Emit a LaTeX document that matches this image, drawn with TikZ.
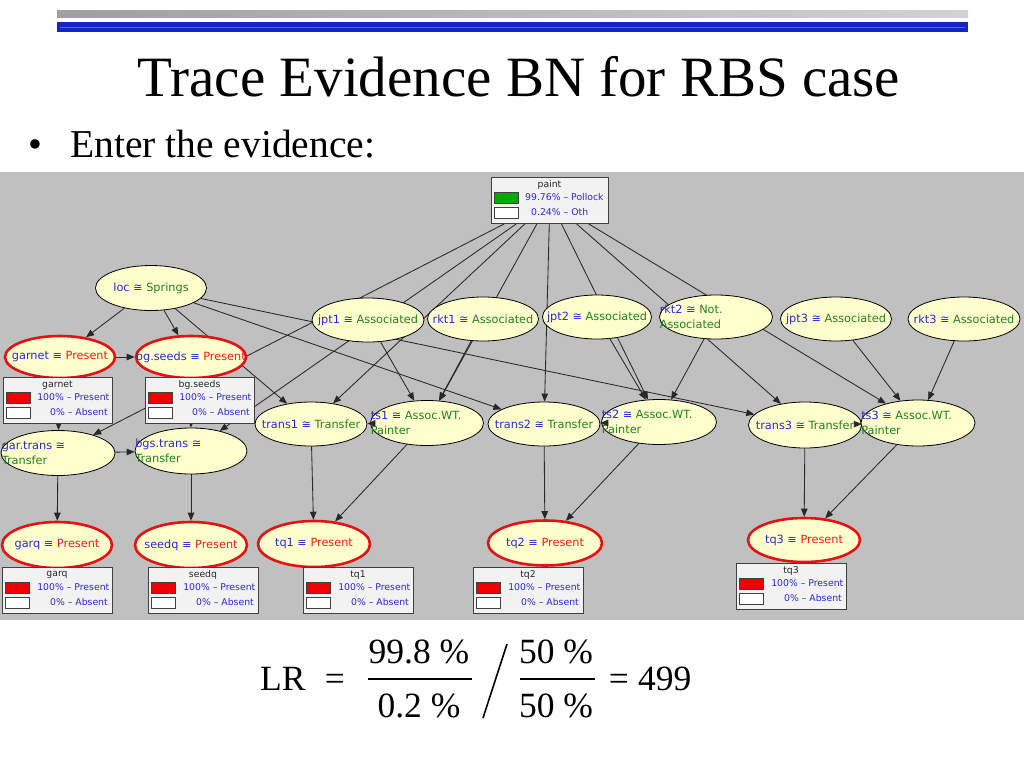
\documentclass[tikz,border=0pt]{standalone}
\usepackage{fontspec}
\setmainfont{Liberation Serif}
\newfontfamily\bnfont{DejaVu Sans}
\usetikzlibrary{shapes.geometric,arrows.meta,calc}
\pgfdeclarelayer{background}
\pgfdeclarelayer{foreground}
\pgfsetlayers{background,main,foreground}
\definecolor{panelgray}{RGB}{192,192,192}
\definecolor{bnyellow}{RGB}{255,255,206}
\definecolor{evred}{RGB}{228,18,18}
\definecolor{bnblue}{RGB}{40,40,210}
\definecolor{bngreen}{RGB}{30,130,30}
\definecolor{bnred}{RGB}{232,30,30}
\definecolor{edgegray}{RGB}{40,40,40}
\definecolor{boxwhite}{RGB}{242,242,242}
\definecolor{swred}{RGB}{240,0,0}
\definecolor{swgreen}{RGB}{0,170,0}
\definecolor{barblue}{RGB}{22,36,200}
\definecolor{barlight}{RGB}{70,100,255}
\newcommand\bnA[2]{\textcolor{bnblue}{#1 ≅} \textcolor{bngreen}{#2}}
\newcommand\bnE[1]{\textcolor{bnblue}{#1 ≡} \textcolor{bnred}{Present}}
\tikzset{
  every node/.style={inner sep=0pt},
  bn/.style={ellipse, draw=black, line width=0.8pt, fill=bnyellow, minimum height=44pt},
  ev/.style={bn, draw=evred, line width=2.6pt},
  lbl/.style={font=\bnfont\fontsize{11.3}{15}\selectfont},
  lbll/.style={lbl, anchor=west, align=left},
  edge/.style={draw=edgegray, line width=0.85pt},
  arr/.style={edge, -{Triangle[length=8pt,width=6.5pt]}},
  pbox/.style={draw=black!75, fill=boxwhite, line width=0.8pt},
  swatch/.style={draw=black!75, line width=0.6pt, minimum width=24pt, minimum height=11pt},
  ptext/.style={font=\bnfont\fontsize{9.3}{10}\selectfont, text=bnblue},
  ptitle/.style={font=\bnfont\fontsize{9.3}{10}\selectfont, text=black!85},
  lrfont/.style={font=\fontsize{35.5}{38}\selectfont},
}
% name, x, y, width, title, swatch colour, line1, line2
\newcommand\probbox[8]{%
  \node[pbox, anchor=north west, minimum width=#4pt, minimum height=46pt] (#1) at (#2,#3) {};
  \node[ptitle] (#1-t) at (#2+#4/2,#3+8) {#5};
  \node[swatch, fill=#6, anchor=north west] (#1-s1) at (#2+3,#3+15) {};
  \node[swatch, fill=white, anchor=north west] (#1-s2) at (#2+3,#3+29.5) {};
  \node[ptext, anchor=east] (#1-a) at (#2+#4-2.5,#3+20.5) {#7};
  \node[ptext, anchor=east] (#1-b) at (#2+#4-4,#3+35) {#8};
}
\begin{document}
\begin{tikzpicture}[x=1pt,y=-1pt]
\useasboundingbox (0,0) rectangle (1024,768);
% header
\shade[left color=gray!75, right color=gray!35] (57,11) rectangle (968,18);
\fill[barblue] (57,22) rectangle (968,32);
\draw[barlight, line width=0.8pt] (60,27) -- (965,27);
\node[font=\fontsize{57}{60}\selectfont, anchor=base] (title) at (519,96) {Trace Evidence BN for RBS case};
\node[font=\fontsize{39.5}{42}\selectfont, anchor=base west] (bul) at (28,157) {•};
\node[font=\fontsize{39.5}{42}\selectfont, anchor=base west] (sub) at (70,157) {Enter the evidence:};

% ellipses
\node[bn, minimum width=111pt, minimum height=45pt] (loc) at (151,288) {};
\node[lbl] (loc-l) at (loc) {\bnA{loc}{Springs}};
\node[ev, minimum width=110pt, minimum height=42pt] (garnet) at (60,357) {};
\node[lbl] (garnet-l) at (garnet) {\bnE{garnet}};
\node[ev, minimum width=110pt, minimum height=42pt] (bgseeds) at (191,357) {};
\node[lbl, anchor=west] (bgseeds-l) at ([xshift=1pt]bgseeds.west) {\bnE{bg.seeds}};

\node[bn, minimum width=112pt] (jpt1) at (368,320) {};
\node[lbl] (jpt1-l) at (jpt1) {\bnA{jpt1}{Associated}};
\node[bn, minimum width=111pt] (rkt1) at (483,319) {};
\node[lbl] (rkt1-l) at (rkt1) {\bnA{rkt1}{Associated}};
\node[bn, minimum width=109pt] (jpt2) at (597,317) {};
\node[lbl] (jpt2-l) at (jpt2) {\bnA{jpt2}{Associated}};
\node[bn, minimum width=113pt] (rkt2) at (716,317) {};
\node[lbll] (rkt2-l) at ([xshift=0.5pt]rkt2.west) {\bnA{rkt2}{Not.}\\\textcolor{bngreen}{Associated}};
\node[bn, minimum width=111pt] (jpt3) at (836,319) {};
\node[lbl] (jpt3-l) at (jpt3) {\bnA{jpt3}{Associated}};
\node[bn, minimum width=112pt] (rkt3) at (964,319) {};
\node[lbl] (rkt3-l) at (rkt3) {\bnA{rkt3}{Associated}};

\node[bn, minimum width=114pt, minimum height=45pt] (gartrans) at (58,453) {};
\node[lbll] (gartrans-l) at ([xshift=1pt]gartrans.west) {\textcolor{bnblue}{gar.trans ≅}\\\textcolor{bngreen}{Transfer}};
\node[bn, minimum width=112pt, minimum height=46pt] (bgstrans) at (191,451) {};
\node[lbll] (bgstrans-l) at ([xshift=0.5pt]bgstrans.west) {\textcolor{bnblue}{bgs.trans ≅}\\\textcolor{bngreen}{Transfer}};

\node[bn, minimum width=112pt] (trans1) at (311,424) {};
\node[lbl] (trans1-l) at (trans1) {\bnA{trans1}{Transfer}};
\node[bn, minimum width=113pt, minimum height=45pt] (ts1) at (427,423) {};
\node[lbll] (ts1-l) at ([xshift=0.5pt]ts1.west) {\bnA{ts1}{Assoc.WT.}\\\textcolor{bngreen}{Painter}};
\node[bn, minimum width=112pt] (trans2) at (544,424) {};
\node[lbl] (trans2-l) at (trans2) {\bnA{trans2}{Transfer}};
\node[bn, minimum width=115pt, minimum height=45pt] (ts2) at (659,422) {};
\node[lbll] (ts2-l) at ([xshift=0.5pt]ts2.west) {\bnA{ts2}{Assoc.WT.}\\\textcolor{bngreen}{Painter}};
\node[bn, minimum width=113pt, minimum height=46pt] (trans3) at (805,425) {};
\node[lbl] (trans3-l) at (trans3) {\bnA{trans3}{Transfer}};
\node[bn, minimum width=114pt, minimum height=46pt] (ts3) at (918,423) {};
\node[lbll] (ts3-l) at ([xshift=0.5pt]ts3.west) {\bnA{ts3}{Assoc.WT.}\\\textcolor{bngreen}{Painter}};

\node[ev, minimum width=110pt, minimum height=46pt] (garq) at (57,545) {};
\node[lbl] (garq-l) at (garq) {\bnE{garq}};
\node[ev, minimum width=112pt, minimum height=46pt] (seedq) at (191,545) {};
\node[lbl] (seedq-l) at (seedq) {\bnE{seedq}};
\node[ev, minimum width=112pt, minimum height=46pt] (tq1) at (314,544) {};
\node[lbl] (tq1-l) at (tq1) {\bnE{tq1}};
\node[ev, minimum width=114pt, minimum height=45pt] (tq2) at (545,543) {};
\node[lbl] (tq2-l) at (tq2) {\bnE{tq2}};
\node[ev, minimum width=112pt, minimum height=44pt] (tq3) at (804,540) {};
\node[lbl] (tq3-l) at (tq3) {\bnE{tq3}};

% probability boxes
\node[pbox, anchor=north west, minimum width=117pt, minimum height=46pt] (paint) at (491,177) {};
\node[ptitle] (paint-t) at (549.5,185) {paint};
\node[swatch, fill=swgreen, anchor=north west] (paint-s1) at (494,191.5) {};
\node[swatch, fill=white, anchor=north west] (paint-s2) at (494,206.5) {};
\node[ptext, anchor=west] (paint-a) at (525,197.5) {99.76\% – Pollock};
\node[ptext, anchor=west] (paint-b) at (531,212.5) {0.24\% – Oth};

\probbox{garnetbox}{3}{377}{109}{garnet}{swred}{100\% – Present}{0\% – Absent}
\probbox{bgseedsbox}{145}{377}{109}{bg.seeds}{swred}{100\% – Present}{0\% – Absent}
\probbox{garqbox}{2}{567}{110}{garq}{swred}{100\% – Present}{0\% – Absent}
\probbox{seedqbox}{148}{567}{110}{seedq}{swred}{100\% – Present}{0\% – Absent}
\probbox{tqonebox}{303}{567}{110}{tq1}{swred}{100\% – Present}{0\% – Absent}
\probbox{tqtwobox}{473}{567}{110}{tq2}{swred}{100\% – Present}{0\% – Absent}
\probbox{tqthreebox}{736}{563}{110}{tq3}{swred}{100\% – Present}{0\% – Absent}

% edges behind the nodes
\begin{pgfonlayer}{background}
\fill[panelgray] (0,172) rectangle (1024,620);
\foreach \a/\b in {loc/garnet,loc/bgseeds,loc/trans1,loc/trans2,loc/trans3,
  garnet/bgseeds,garnet/gartrans,bgseeds/bgstrans,gartrans/bgstrans,
  gartrans/garq,bgstrans/seedq,
  paint/gartrans,paint/bgstrans,paint/trans1,paint/ts1,paint/trans2,
  paint/ts2,paint/trans3,paint/ts3,
  jpt1/ts1,rkt1/ts1,jpt2/ts2,rkt2/ts2,jpt3/ts3,rkt3/ts3,
  trans1/tq1,ts1/tq1,trans2/tq2,ts2/tq2,trans3/tq3,ts3/tq3}
  \draw[arr] (\a) -- (\b);
\end{pgfonlayer}
\begin{pgfonlayer}{foreground}
\foreach \a/\b in {ts1/trans1,ts2/trans2,ts3/trans3}
  \draw[arr] (\a) -- (\b);
\end{pgfonlayer}

% likelihood ratio
\node[lrfont, anchor=base west] (lr) at (260,690) {LR};
\node[lrfont, anchor=base] (eq1) at (335,690) {=};
\node[lrfont, anchor=base] (n1) at (419,663) {99.8 \%};
\node[lrfont, anchor=base] (d1) at (419,717) {0.2 \%};
\draw[line width=1.3pt] (368,679) -- (472,679);
\draw[line width=1.6pt] (483,718) -- (507,644);
\node[lrfont, anchor=base] (n2) at (556,663) {50 \%};
\node[lrfont, anchor=base] (d2) at (556,717) {50 \%};
\draw[line width=1.3pt] (520,679) -- (595,679);
\node[lrfont, anchor=base] (eq2) at (619,690) {=};
\node[lrfont, anchor=base west] (res) at (638,690) {499};
\end{tikzpicture}
\end{document}
